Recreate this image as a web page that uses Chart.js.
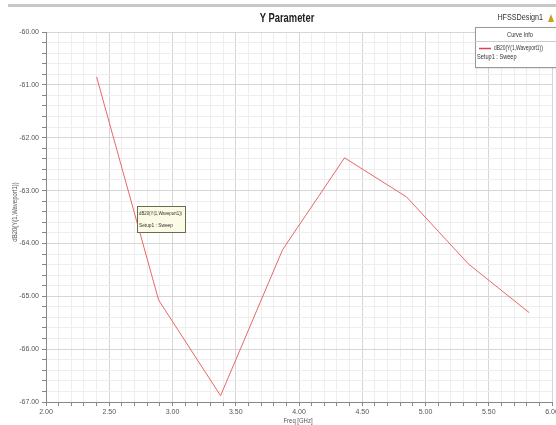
<!DOCTYPE html>
<html><head><meta charset="utf-8">
<script src="https://cdn.jsdelivr.net/npm/chart.js@4/dist/chart.umd.min.js"></script>
<style>html,body{margin:0;padding:0;background:#fff}#wrap{width:556px;height:425px}</style>
</head><body><div id="wrap"><canvas id="c" width="556" height="425"></canvas></div>
<script>
const freqGHz = [2.40, 2.89, 3.38, 3.87, 4.36, 4.85, 5.34, 5.82];
const dB20Y = [-60.85, -65.07, -66.88, -64.12, -62.38, -63.12, -64.39, -65.31];
const seriesName = "dB20(Y(1,Waveport1))";
const setupName = "Setup1 : Sweep";
const chartTitle = "Y Parameter";
const designName = "HFSSDesign1";
const xTitle = "Freq [GHz]";

const FONT = "'Liberation Sans',Arial,sans-serif";

// draw text horizontally compressed to mimic a narrow font
function narrowText(ctx, txt, x, y, sx, align) {
  ctx.save();
  ctx.translate(x, y);
  ctx.scale(sx, 1);
  ctx.textAlign = align || 'left';
  ctx.fillText(txt, 0, 0);
  ctx.restore();
}

const deco = {
  id: 'deco',
  beforeDraw(chart) {
    const ctx = chart.ctx;
    ctx.save();
    ctx.fillStyle = '#fff';
    ctx.fillRect(0, 0, chart.width, chart.height);
    ctx.fillStyle = '#c8c8c8';
    ctx.fillRect(8, 4, chart.width - 8, 3);
    ctx.restore();
  },
  afterDraw(chart) {
    const ctx = chart.ctx;
    ctx.save();
    ctx.textBaseline = 'middle';
    // title
    ctx.fillStyle = '#222';
    ctx.font = 'bold 13px ' + FONT;
    narrowText(ctx, chartTitle, 287, 18, 0.72, 'center');
    ctx.font = '9px ' + FONT;
    ctx.fillStyle = '#333';
    narrowText(ctx, designName, 543, 18, 0.8, 'right');
    // small logo
    ctx.fillStyle = '#c9a020';
    ctx.beginPath(); ctx.moveTo(548, 22); ctx.lineTo(551, 14); ctx.lineTo(554, 22); ctx.closePath(); ctx.fill();
    // y title
    ctx.fillStyle = '#555';
    ctx.font = '7px ' + FONT;
    ctx.save();
    ctx.translate(15, 212); ctx.rotate(-Math.PI / 2);
    narrowText(ctx, seriesName, 0, 0, 0.85, 'center');
    ctx.restore();
    // x title
    narrowText(ctx, xTitle, 298, 421, 0.85, 'center');
    // legend box
    ctx.save();
    ctx.shadowColor = 'rgba(0,0,0,0.25)'; ctx.shadowBlur = 2; ctx.shadowOffsetX = 1; ctx.shadowOffsetY = 1;
    ctx.fillStyle = '#fff';
    ctx.fillRect(475, 27, 84, 40);
    ctx.restore();
    ctx.strokeStyle = '#999'; ctx.lineWidth = 1;
    ctx.strokeRect(475.5, 27.5, 84, 40);
    ctx.beginPath(); ctx.moveTo(475, 41.5); ctx.lineTo(556, 41.5); ctx.strokeStyle = '#ccc'; ctx.stroke();
    ctx.fillStyle = '#333'; ctx.font = '7px ' + FONT;
    narrowText(ctx, 'Curve Info', 520, 35, 0.8, 'center');
    ctx.strokeStyle = '#e04050'; ctx.lineWidth = 1.5;
    ctx.beginPath(); ctx.moveTo(479, 48.5); ctx.lineTo(491, 48.5); ctx.stroke();
    narrowText(ctx, seriesName, 494, 48, 0.7, 'left');
    narrowText(ctx, setupName, 477, 57, 0.8, 'left');
    // marker label box
    ctx.fillStyle = '#fbfbe6';
    ctx.fillRect(137, 206, 48, 26);
    ctx.strokeStyle = '#6b6b50'; ctx.lineWidth = 1;
    ctx.strokeRect(137.5, 206.5, 48, 26);
    ctx.fillStyle = '#333'; ctx.font = '6px ' + FONT;
    narrowText(ctx, seriesName, 139, 213, 0.72, 'left');
    narrowText(ctx, setupName, 139, 225, 0.8, 'left');
    ctx.restore();
  }
};

function isMajorX(v) { return Math.abs(v * 2 - Math.round(v * 2)) < 1e-6; }
function isMajorY(v) { return Math.abs(v - Math.round(v)) < 1e-6; }

new Chart(document.getElementById('c'), {
  type: 'line',
  data: {
    datasets: [{
      label: seriesName,
      data: freqGHz.map((x, i) => ({ x: x, y: dB20Y[i] })),
      borderColor: '#e86868',
      borderWidth: 1,
      pointRadius: 0,
      tension: 0,
      fill: false
    }]
  },
  plugins: [deco],
  options: {
    responsive: false,
    animation: false,
    events: [],
    layout: { padding: { top: 32, right: 4, left: 0, bottom: 0 } },
    plugins: { legend: { display: false }, tooltip: { enabled: false }, title: { display: false } },
    scales: {
      x: {
        type: 'linear', min: 2, max: 6,
        afterFit(s) { s.height = 23; s.paddingRight = 0; s.paddingLeft = 0; },
        border: { color: '#888', width: 1 },
        grid: {
          color: c => isMajorX(c.tick.value) ? '#d6d6d6' : '#eeeeee',
          tickLength: 4, tickColor: '#888'
        },
        ticks: {
          stepSize: 0.1, maxTicksLimit: 100, autoSkip: false, maxRotation: 0,
          padding: 2,
          color: '#555', font: { size: 7, family: FONT },
          callback: v => isMajorX(v) ? v.toFixed(2) : ''
        }
      },
      y: {
        type: 'linear', min: -67, max: -60,
        afterFit(s) { s.width = 46; },
        border: { color: '#888', width: 1 },
        grid: {
          color: c => isMajorY(c.tick.value) ? '#d6d6d6' : '#eeeeee',
          tickLength: 4, tickColor: '#888'
        },
        ticks: {
          stepSize: 0.2, maxTicksLimit: 100, autoSkip: false,
          padding: 3,
          color: '#555', font: { size: 7, family: FONT },
          callback: v => isMajorY(v) ? v.toFixed(2) : ''
        }
      }
    }
  }
});
</script></body></html>
